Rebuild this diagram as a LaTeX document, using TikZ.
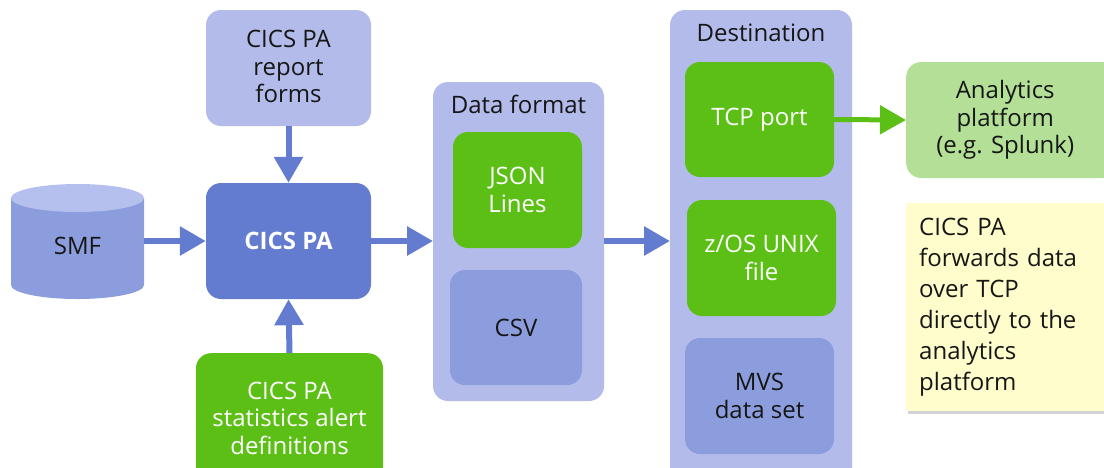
\documentclass[tikz,border=0pt]{standalone}
\usepackage{fontspec}
\setmainfont{Open Sans}
\usetikzlibrary{arrows.meta,shadows}
\definecolor{lav}{HTML}{B3BBEA}
\definecolor{mid}{HTML}{8C9DDD}
\definecolor{dark}{HTML}{637CD0}
\definecolor{grn}{HTML}{5CBF16}
\definecolor{lgrn}{HTML}{B3DF96}
\definecolor{yel}{HTML}{FFFDCC}
\definecolor{cyltop}{HTML}{B5C0EE}
\definecolor{txt}{HTML}{161616}
\tikzset{
  box/.style={rounded corners=15pt, inner sep=0pt, align=center, text=txt,
    font=\fontsize{24}{27.5}\selectfont},
  cont/.style={rounded corners=15pt, fill=lav},
  ttl/.style={text=txt, font=\fontsize{24}{27.5}\selectfont, inner sep=0pt},
  bar/.style={draw=dark, line width=6pt, -{Triangle[width=28pt,length=26pt]}},
  gbar/.style={draw=grn, line width=5pt, -{Triangle[width=28pt,length=26pt]}},
}
\begin{document}
\begin{tikzpicture}[x=1pt,y=-1pt]
\useasboundingbox (0,0) rectangle (1104,467);
% containers
\fill[cont] (433,82) rectangle (604,401);
\fill[cont] (670,10) rectangle (852,490);
\node[ttl] (dftitle) at (518.5,104) {Data format};
\node[ttl] (dsttitle) at (761,33) {Destination};
% cylinder
\fill[mid] (11,198) -- (11,285) arc[start angle=180,end angle=0,x radius=66.5,y radius=14] -- (144,198) -- cycle;
\fill[cyltop] (77.5,198) ellipse[x radius=66.5,y radius=14];
\node[inner sep=0pt, minimum width=133pt, minimum height=116pt, text=txt,
  font=\fontsize{24}{27.5}\selectfont] (smf) at (77.5,246) {SMF};
\coordinate (smfr) at (144,241);
% boxes
\node[box, fill=lav, minimum width=165pt, minimum height=116pt] (forms) at (288.5,68) {CICS PA\\report\\forms\vspace*{3pt}};
\node[box, fill=dark, text=white, minimum width=165pt, minimum height=116pt,
  font=\fontsize{24}{27.5}\selectfont\bfseries] (cics) at (288.5,241) {CICS PA};
\node[box, fill=grn, text=white, minimum width=187pt, minimum height=130pt, anchor=north] (stats) at (289.5,353) {CICS PA\\statistics alert\\definitions};
\node[box, fill=grn, text=white, minimum width=129pt, minimum height=116pt] (json) at (517.5,190) {JSON\\Lines};
\node[box, fill=mid, minimum width=132pt, minimum height=115pt] (csv) at (516,327.5) {CSV};
\node[box, fill=grn, text=white, minimum width=149pt, minimum height=115pt] (tcp) at (759.5,119.5) {TCP port};
\node[box, fill=grn, text=white, minimum width=149pt, minimum height=116pt] (zos) at (761.5,258) {z/OS UNIX\\file};
\node[box, fill=mid, minimum width=149pt, minimum height=116pt] (mvs) at (759.5,396) {MVS\\data set};
\node[box, fill=lgrn, minimum width=210pt, minimum height=116pt, anchor=west] (ana) at (906,120) {\hspace*{-12pt}Analytics\\\hspace*{-12pt}platform\\\hspace*{-12pt}(e.g. Splunk)};
\node[fill=yel, text=txt, drop shadow={shadow xshift=2pt,shadow yshift=-3pt,opacity=0.35},
  minimum height=208pt, text width=185pt, align=left, inner xsep=13pt, inner ysep=0pt,
  anchor=north west, font=\fontsize{24}{31}\selectfont] (note) at (906,203)
  {CICS PA\\forwards data\\over TCP\\directly to the\\analytics\\platform};
% connectors
\coordinate (dfl) at (433,241);
\coordinate (dfr) at (604,241);
\coordinate (dsl) at (670,241);
\draw[bar] (forms.south) -- (cics.north);
\draw[bar] (stats.north) -- (cics.south);
\draw[bar] (smfr) -- (cics.west);
\draw[bar] (cics.east) -- (dfl);
\draw[bar] (dfr) -- (dsl);
\draw[gbar] (tcp.east) -- (ana.west);
\end{tikzpicture}
\end{document}
